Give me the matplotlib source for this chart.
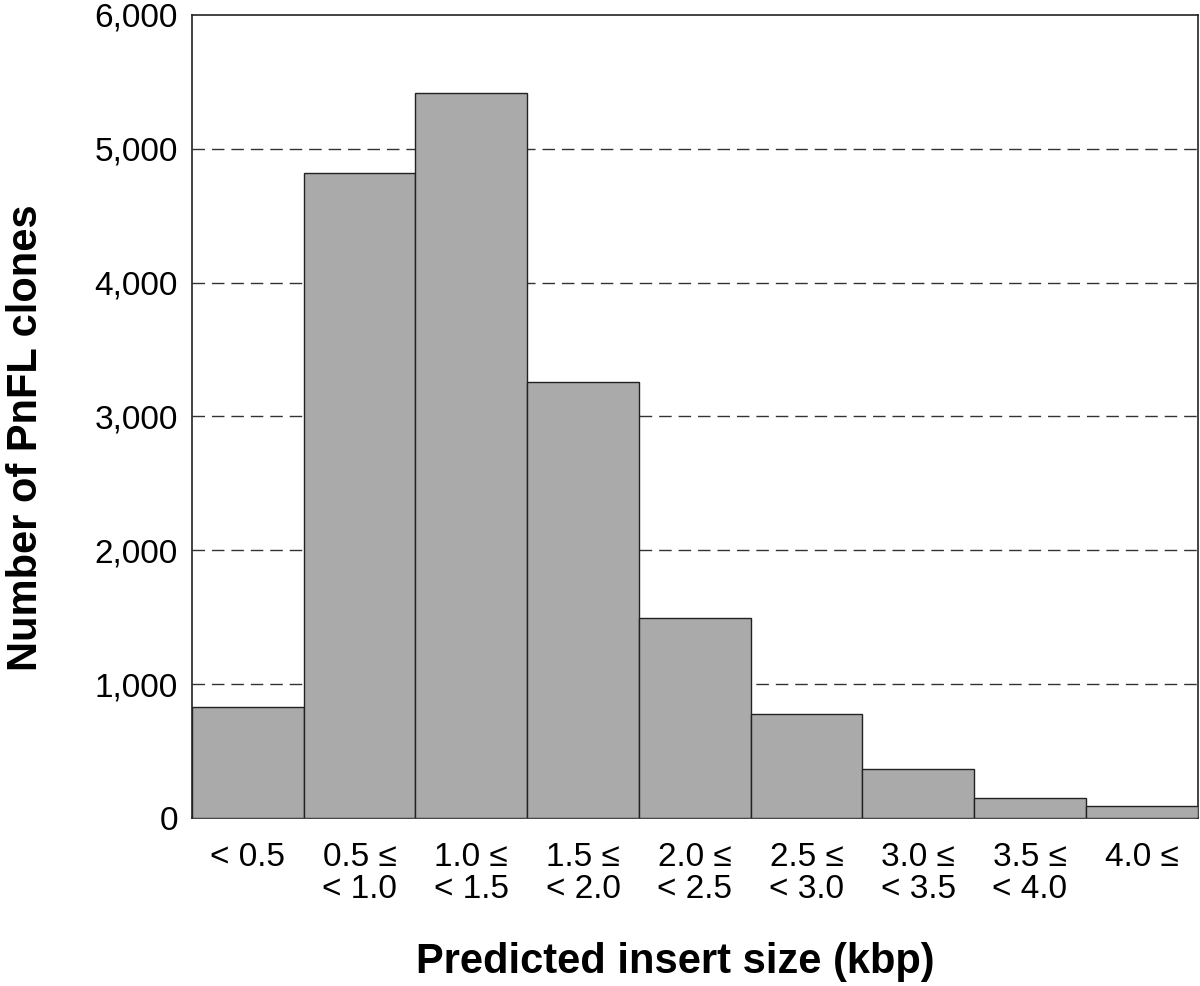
import matplotlib
matplotlib.use('Agg')
import matplotlib.pyplot as plt
import numpy as np

plt.rcParams['font.family'] = ['Liberation Sans', 'DejaVu Sans']

categories = ['< 0.5', '0.5 \u2264\n< 1.0', '1.0 \u2264\n< 1.5', '1.5 \u2264\n< 2.0',
              '2.0 \u2264\n< 2.5', '2.5 \u2264\n< 3.0', '3.0 \u2264\n< 3.5',
              '3.5 \u2264\n< 4.0', '4.0 \u2264']
clones = [830, 4820, 5415, 3260, 1495, 778, 366, 150, 90]
yticks = [0, 1000, 2000, 3000, 4000, 5000, 6000]

fig = plt.figure(figsize=(12, 9.86), dpi=100)
ax = fig.add_axes([0.16, 0.1704, 0.838, 0.8146])

x = np.arange(len(categories))
ax.bar(x, clones, width=1.0, color='#aaaaaa', edgecolor='#222222', linewidth=1.0, zorder=3)

ax.set_xlim(-0.5, len(categories) - 0.5)
ax.set_ylim(0, 6000)
ax.set_yticks(yticks)
ax.set_yticklabels([f'{v:,}' for v in yticks])
ax.set_xticks(x)
ax.set_xticklabels(categories, linespacing=1.05, va='top')
ax.tick_params(axis='both', length=0, labelsize=24)
ax.tick_params(axis='x', pad=17)
ax.tick_params(axis='y', pad=10)

# dashed reference lines (sit behind the bars)
for v in yticks[1:-1]:
    ax.axhline(v, color='#333333', linestyle=(0, (9, 5)), linewidth=1.0, zorder=1)

for s in ax.spines.values():
    s.set_color('#222222')
    s.set_linewidth(1.2)

# axis titles placed as in the original figure
fig.text(675 / 1200, 1 - 962 / 986, 'Predicted insert size (kbp)', fontsize=30,
         fontweight='bold', ha='center', va='center')
fig.text(26 / 1200, 1 - 438 / 986, 'Number of PnFL clones', fontsize=30,
         fontweight='bold', ha='center', va='center', rotation=90)

fig.savefig('out.png', dpi=100)
